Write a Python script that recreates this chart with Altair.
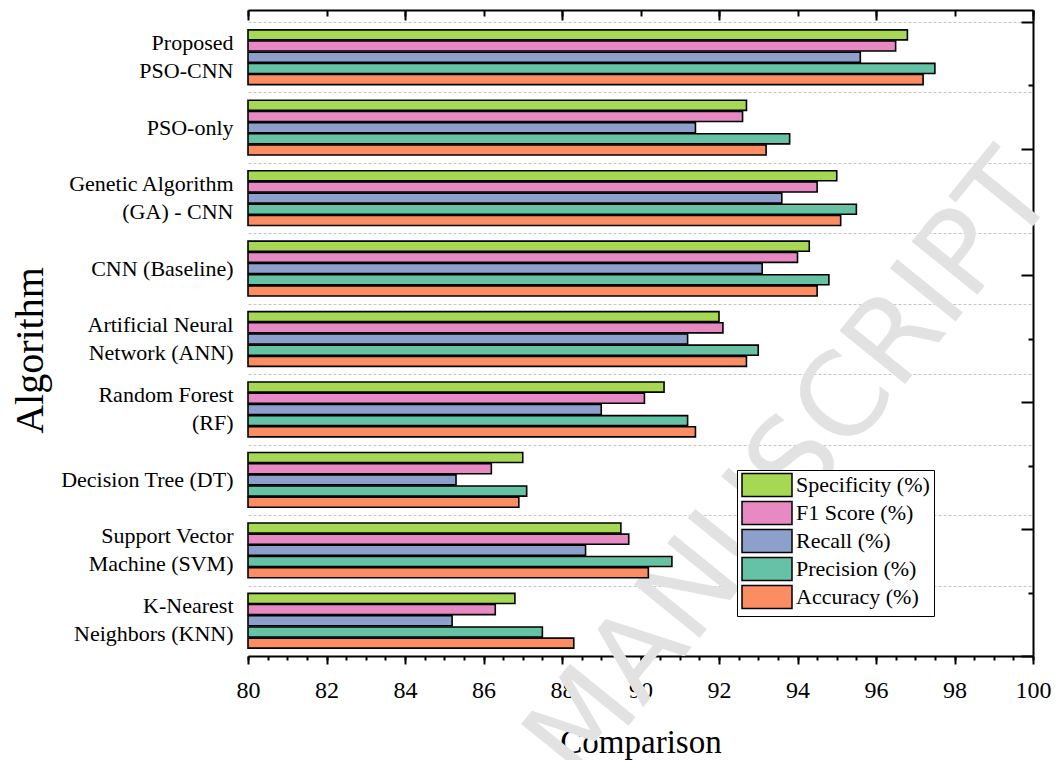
import altair as alt
import pandas as pd
import numpy as np

categories = [
    "Proposed|PSO-CNN", "PSO-only", "Genetic Algorithm|(GA) - CNN", "CNN (Baseline)",
    "Artificial Neural|Network (ANN)", "Random Forest|(RF)", "Decision Tree (DT)",
    "Support Vector|Machine (SVM)", "K-Nearest|Neighbors (KNN)",
]
metrics = ["Specificity (%)", "F1 Score (%)", "Recall (%)", "Precision (%)", "Accuracy (%)"]
specificity = [96.8, 92.7, 95.0, 94.3, 92.0, 90.6, 87.0, 89.5, 86.8]
f1_score = [96.5, 92.6, 94.5, 94.0, 92.1, 90.1, 86.2, 89.7, 86.3]
recall = [95.6, 91.4, 93.6, 93.1, 91.2, 89.0, 85.3, 88.6, 85.2]
precision = [97.5, 93.8, 95.5, 94.8, 93.0, 91.2, 87.1, 90.8, 87.5]
accuracy = [97.2, 93.2, 95.1, 94.5, 92.7, 91.4, 86.9, 90.2, 88.3]
colors = ["#a6d854", "#e78ac3", "#8da0cb", "#66c2a5", "#fc8d62"]
x_ticks_major = list(range(80, 101, 2))
x_ticks_minor = [float(v) for v in np.arange(80, 100.01, 0.5)]
top_ticks_major = list(range(80, 101, 4))
top_ticks_minor = list(range(80, 101, 2))
right_major = [0, 2, 4, 6, 8, 10]
right_minor = [1, 3, 5, 7, 9]

series = [specificity, f1_score, recall, precision, accuracy]
rows = []
for m, vals in zip(metrics, series):
    for c, v in zip(categories, vals):
        rows.append({"algorithm": c, "metric": m, "value": v})
df = pd.DataFrame(rows)

W, H = 785, 646
FONT = "Liberation Serif"
xscale = alt.Scale(domain=[80, 100], nice=False, zero=False)

watermark = alt.Chart(pd.DataFrame({"t": ["MANUSCRIPT"]})).mark_text(
    angle=309, fontSize=116, color="#e2e2e2", font="DejaVu Sans", fontWeight="normal"
).encode(text="t:N", x=alt.value(544), y=alt.value(458))

bars = alt.Chart(df).mark_bar(stroke="black", strokeWidth=1.6).encode(
    x=alt.X("value:Q", scale=xscale, axis=alt.Axis(
        orient="bottom", values=x_ticks_major, tickSize=8, tickWidth=2, tickColor="black",
        domain=True, domainWidth=2, domainColor="black", grid=False,
        labelFont=FONT, labelFontSize=24, labelColor="black", labelPadding=14,
        labelFlush=False, labelOverlap=False,
        title="Comparison", titleFont=FONT, titleFontSize=33, titleFontWeight="normal",
        titleColor="black", titleY=86, titleBaseline="middle")),
    x2=alt.datum(80),
    y=alt.Y("algorithm:N", sort=categories,
            scale=alt.Scale(range=[12, H], paddingInner=0, paddingOuter=0),
            axis=alt.Axis(
                orient="left", domain=False, ticks=False, tickSize=0, tickBand="extent",
                grid=True, gridDash=[3, 2], gridColor="#c4c4c4", gridWidth=1,
                labelExpr="split(datum.label, '|')", labelFont=FONT, labelFontSize=22,
                labelColor="black", labelLineHeight=28, labelPadding=15, labelLimit=400,
                labelOffset={"condition": {"test": "indexof(datum.label, '|') >= 0", "value": -15},
                             "value": 0},
                title="Algorithm", titleFont=FONT, titleFontSize=40, titleFontWeight="normal",
                titleColor="black", titleX=-218, titleY=340, titleAngle=270,
                titleBaseline="middle", titleAlign="center")),
    yOffset=alt.YOffset("metric:N", sort=metrics,
                        scale=alt.Scale(paddingInner=0.1, paddingOuter=0.7)),
    color=alt.Color("metric:N", scale=alt.Scale(domain=metrics, range=colors),
                    legend=alt.Legend(
                        title=None, orient="none", legendX=489, legendY=460,
                        symbolType="M-1,-1.15H4V1.15H-1Z", symbolSize=400,
                        symbolStrokeColor="black", symbolStrokeWidth=1.5,
                        labelFont=FONT, labelFontSize=22, labelColor="black",
                        labelOffset=33, rowPadding=-2, padding=4,
                        strokeColor="black", fillColor="white", labelLimit=400)),
)

def ghost_x(values, size, orient, offset, domain):
    return alt.Chart(df).mark_point(opacity=0).encode(
        x=alt.X("value:Q", scale=xscale, axis=alt.Axis(
            orient=orient, offset=offset, values=values, tickSize=size, tickWidth=2,
            tickColor="black", labels=False, domain=domain, domainWidth=2,
            domainColor="black", grid=False, title=None)))

def ghost_y(values, size, domain):
    return alt.Chart(df).mark_point(opacity=0).encode(
        y=alt.YDatum(0, type="quantitative",
                     scale=alt.Scale(domain=[0, 10.185], nice=False, zero=False),
                     axis=alt.Axis(orient="left", offset=-W, values=values, tickSize=size,
                                   tickWidth=2, tickColor="black", labels=False,
                                   domain=domain, domainWidth=2, domainColor="black",
                                   grid=False, title=None)))

chart = alt.layer(
    watermark,
    bars,
    ghost_x(x_ticks_minor, 4, "bottom", 0, False),
    ghost_x(top_ticks_major, 10, "bottom", -H, True),
    ghost_x(top_ticks_minor, 6, "bottom", -H, False),
    ghost_y(right_major, 12, True),
    ghost_y(right_minor, 5, False),
).resolve_scale(y="independent").resolve_axis(x="independent", y="independent").properties(
    width=W, height=H,
    autosize=alt.AutoSizeParams(type="none"),
    padding={"left": 240, "top": 2, "right": 20, "bottom": 110},
    background="white",
).configure(font=FONT).configure_view(stroke=None)

chart.save("out.html", embed_options={"renderer": "svg", "actions": False})
